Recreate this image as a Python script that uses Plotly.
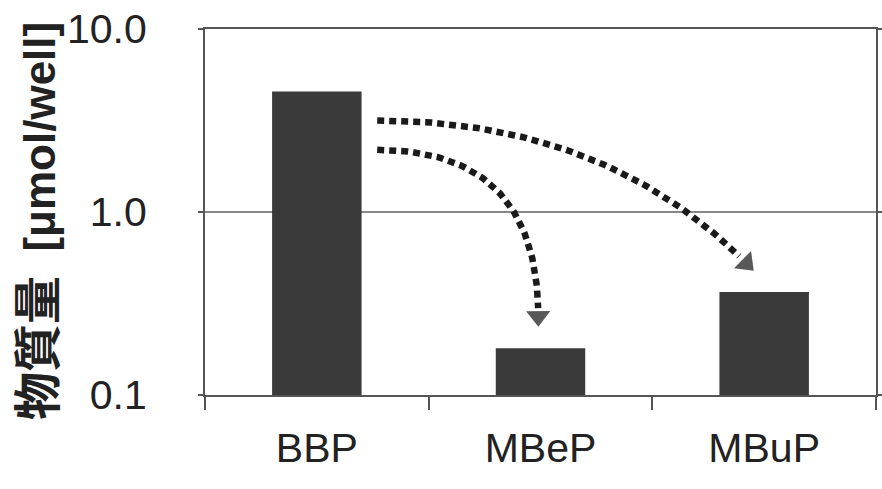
import numpy as np
import plotly.graph_objects as go

# ---- data ----
categories = ["BBP", "MBeP", "MBuP"]
amounts = [4.55, 0.18, 0.365]          # μmol/well
y_tickvals = [0.1, 1.0, 10.0]
y_ticktext = ["0.1", "1.0", "10.0"]
y_title_cjk = "物質量"
y_title_unit = "[μmol/well]"

# curved dotted arrows: (x, log10 y) of start, control point, arrowhead centre
arrow_to_mbep = [(0.27, 0.34), (0.99, 0.34), (0.99, -0.57)]
arrow_to_mbup = [(0.27, 0.50), (1.29, 0.50), (1.92, -0.28)]

fig = go.Figure()
fig.add_trace(go.Bar(x=categories, y=amounts, width=0.4,
                     marker=dict(color="#3a3a3a", line=dict(width=0)),
                     showlegend=False))


def bez(pts, t):
    (x0, y0), (x1, y1), (x2, y2) = pts
    t = np.asarray(t)
    x = (1 - t) ** 2 * x0 + 2 * (1 - t) * t * x1 + t ** 2 * x2
    y = (1 - t) ** 2 * y0 + 2 * (1 - t) * t * y1 + t ** 2 * y2
    return x, 10 ** y


for pts in [arrow_to_mbep, arrow_to_mbup]:
    t = np.linspace(0, 0.975, 90)
    x, y = bez(pts, t)
    fig.add_trace(go.Scatter(x=x, y=y, mode="lines", xaxis="x2",
                             line=dict(color="#1a1a1a", width=6.5, dash="7px,5px"),
                             showlegend=False, hoverinfo="skip"))
    xh, yh = bez(pts, [0.97, 1.0])
    fig.add_trace(go.Scatter(x=xh, y=yh, mode="markers", xaxis="x2",
                             marker=dict(symbol="triangle-up", size=[0, 21],
                                         color="#111111", angleref="previous",
                                         line=dict(width=0)),
                             showlegend=False, hoverinfo="skip"))

axis_color = "#555555"
fig.update_layout(
    width=882, height=489,
    margin=dict(l=205, r=6, t=29, b=94),
    paper_bgcolor="white", plot_bgcolor="white",
    font=dict(family="Liberation Sans, Arial, sans-serif", color="#222222"),
    xaxis=dict(
        type="category", categoryorder="array", categoryarray=categories,
        range=[-0.5, len(categories) - 0.5], tickson="boundaries",
        showgrid=False, zeroline=False, automargin=False,
        showline=True, linecolor=axis_color, linewidth=2, mirror=True,
        ticks="outside", ticklen=13, tickwidth=2, tickcolor=axis_color,
        tickfont=dict(size=41, color="#222222"),
        ticklabelstandoff=16,
    ),
    xaxis2=dict(overlaying="x", range=[-0.5, len(categories) - 0.5],
                visible=False, fixedrange=True),
    yaxis=dict(
        type="log", range=[-1, 1], automargin=False,
        tickmode="array", tickvals=y_tickvals, ticktext=y_ticktext,
        showgrid=True, gridcolor="#888888", gridwidth=1.5, zeroline=False,
        showline=True, linecolor=axis_color, linewidth=2, mirror="ticks",
        ticks="outside", ticklen=5, tickwidth=2, tickcolor=axis_color,
        tickfont=dict(size=41, color="#222222"),
        ticklabelstandoff=43,
    ),
)

fig.add_annotation(
    text=f"<span style='font-size:48px'>{y_title_cjk}</span>\u00a0\u00a0{y_title_unit}",
    xref="paper", yref="paper",
    x=-0.249, y=0.475, xanchor="center", yanchor="middle",
    textangle=-90, showarrow=False,
    font=dict(size=44, family="Liberation Sans, Noto Sans CJK JP, sans-serif",
              color="#222222", weight=700),
)

fig.write_html("out.html")
